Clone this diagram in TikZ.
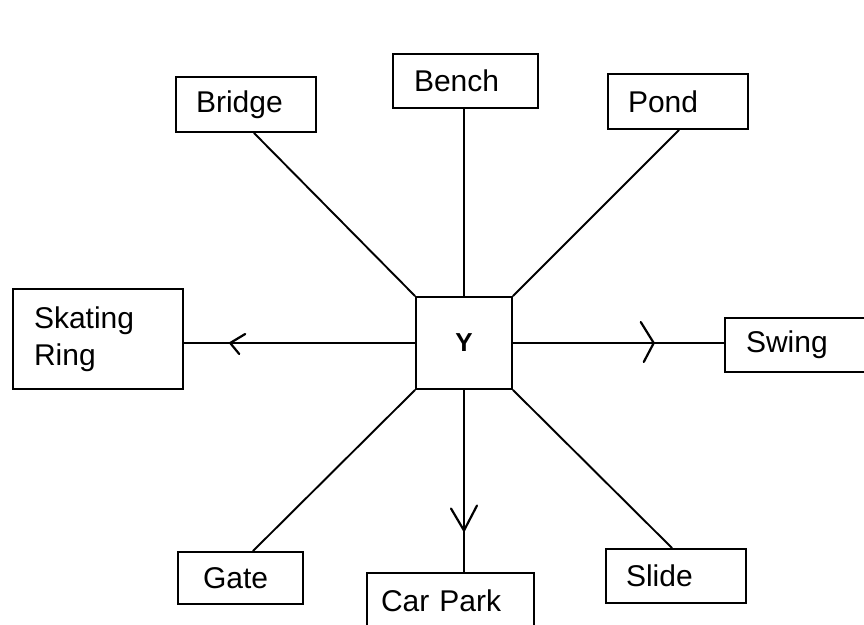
\documentclass[tikz,border=0pt]{standalone}
\usepackage{fontspec}
\setmainfont{Liberation Sans}
\usetikzlibrary{calc}
\newcommand{\lblfont}{\fontsize{30}{37}\selectfont}
\begin{document}
\begin{tikzpicture}[x=1pt,y=-1pt,
  box/.style={draw, line width=2pt, rectangle, anchor=north west,
    align=left, font=\lblfont, inner ysep=0pt},
  hub/.style={draw, line width=2pt, rectangle, anchor=north west,
    minimum width=96pt, minimum height=92pt, inner sep=0pt,
    font=\fontsize{26}{30}\selectfont\bfseries},
  link/.style={line width=1.9pt, line cap=round},
  chev/.style={line width=2.2pt, line cap=round, line join=round}]
\useasboundingbox (0,0) rectangle (864,624);

% central square
\node[hub] (hub) at (415,296) {Y};

% surrounding places
\node[box, text width=100pt, inner xsep=20pt, minimum height=55pt] (bridge) at (175,76) {Bridge};
\node[box, text width=103pt, inner xsep=21pt, minimum height=54pt] (bench) at (392,53) {Bench};
\node[box, text width=100pt, inner xsep=20pt, minimum height=55pt] (pond) at (607,73) {Pond};
\node[box, text width=128pt, inner xsep=21pt, minimum height=100pt] (skating) at (12,288) {Skating\\Ring};
\node[box, text width=118pt, inner xsep=21pt, minimum height=54pt] (swing) at (724,317) {Swing};
\node[box, text width=75pt, inner xsep=25pt, minimum height=52pt] (gate) at (177,551) {Gate};
\node[box, text width=139pt, inner xsep=14pt, minimum height=56pt] (carpark) at (366,572) {Car Park};
\node[box, text width=100pt, inner xsep=20pt, minimum height=54pt] (slide) at (605,548) {Slide};

% spokes
\draw[link] (hub.north west) -- ($(bridge.south)+(8,0)$);
\draw[link] (hub.north) -- (hub.north |- bench.south);
\draw[link] (hub.north east) -- ($(pond.south)+(1,0)$);
\draw[link] (hub.west) -- (hub.west -| skating.east);
\draw[link] (hub.east) -- (hub.east -| swing.west);
\draw[link] (hub.south) -- (hub.south |- carpark.north);
\draw[link] (hub.south west) -- ($(gate.north)+(12.5,0)$);
\draw[link] (hub.south east) -- ($(slide.north)+(-4,0)$);

% hand-drawn direction marks
\coordinate (ak) at ($(hub.west)!0.80!(hub.west -| skating.east)$);
\coordinate (as) at ($(hub.east)!0.667!(hub.east -| swing.west)$);
\coordinate (ac) at ($(hub.south)!0.772!(hub.south |- carpark.north)$);
\draw[chev] ($(ak)+(15,-9)$) -- (ak) -- ($(ak)+(9,11)$);
\draw[chev] ($(as)+(-13,-21)$) -- (as) -- ($(as)+(-10,19)$);
\draw[chev] ($(ac)+(-13,-22)$) -- (ac) -- ($(ac)+(13,-25)$);
\end{tikzpicture}
\end{document}
